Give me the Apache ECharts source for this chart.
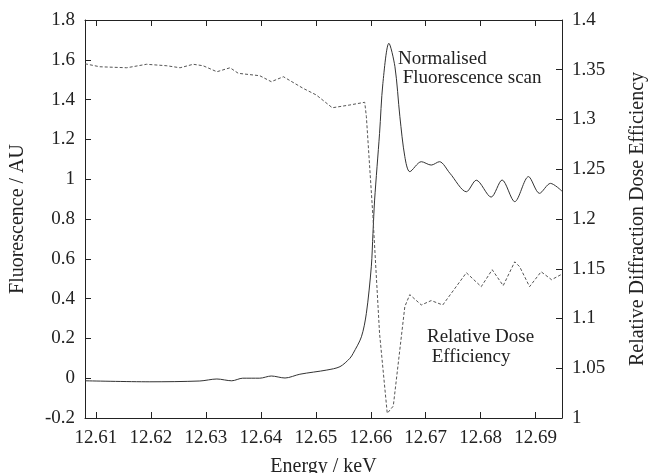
<!DOCTYPE html>
<html><head><meta charset="utf-8">
<script src="https://cdn.jsdelivr.net/npm/echarts@6/dist/echarts.min.js"></script>
<style>html,body{margin:0;padding:0;background:#fff}#c{width:652px;height:473px}</style>
</head><body><div id="c"></div>
<script>
var xTicks = [12.61, 12.62, 12.63, 12.64, 12.65, 12.66, 12.67, 12.68, 12.69];

var fluorEnergy = [12.608, 12.6198, 12.6289, 12.632, 12.6347, 12.6367, 12.6398, 12.6419, 12.6444, 12.6471, 12.652, 12.6544, 12.6562, 12.6568, 12.6583, 12.6592, 12.6601, 12.6604, 12.6607, 12.6616, 12.6622, 12.6633, 12.6644, 12.6653, 12.6662, 12.6671, 12.6692, 12.671, 12.6725, 12.6744, 12.6774, 12.6792, 12.6819, 12.6839, 12.6862, 12.6887, 12.6907, 12.6927, 12.6948];
var fluorValue = [-0.013, -0.018, -0.014, -0.004, -0.013, 0.0, 0.0, 0.011, 0.001, 0.02, 0.041, 0.058, 0.1, 0.125, 0.208, 0.326, 0.56, 0.728, 0.895, 1.23, 1.48, 1.683, 1.565, 1.314, 1.113, 1.038, 1.088, 1.071, 1.088, 1.03, 0.937, 0.995, 0.91, 0.996, 0.887, 1.013, 0.929, 0.979, 0.94];

var doseEnergy = [12.608, 12.6107, 12.6156, 12.6192, 12.6229, 12.6253, 12.6277, 12.6295, 12.632, 12.6344, 12.6359, 12.6398, 12.6419, 12.6441, 12.6477, 12.6501, 12.653, 12.6562, 12.6589, 12.6592, 12.6604, 12.6616, 12.663, 12.6641, 12.6662, 12.6671, 12.6692, 12.671, 12.6731, 12.6774, 12.6801, 12.6821, 12.6841, 12.6862, 12.6871, 12.6889, 12.691, 12.6929, 12.6948];
var doseValue = [1.356, 1.353, 1.352, 1.3555, 1.354, 1.352, 1.3555, 1.354, 1.348, 1.352, 1.3464, 1.344, 1.338, 1.343, 1.3313, 1.3246, 1.3118, 1.3146, 1.3173, 1.303, 1.2023, 1.085, 1.0047, 1.012, 1.112, 1.124, 1.1136, 1.118, 1.1136, 1.146, 1.132, 1.149, 1.133, 1.157, 1.152, 1.132, 1.147, 1.139, 1.1446];

function zip(a, b) { return a.map(function (v, i) { return [v, b[i]]; }); }

var FONT = '"Liberation Serif", "DejaVu Serif", serif';
var ink = '#222';
var chart = echarts.init(document.getElementById('c'));
chart.setOption({
  animation: false,
  backgroundColor: '#fff',
  grid: { left: 85, right: 90, top: 20, bottom: 55, containLabel: false, outerBoundsMode: 'none' },
  xAxis: [{
    type: 'value', min: 12.608, max: 12.6948,
    name: 'Energy / keV', nameLocation: 'middle', nameGap: 39,
    nameTextStyle: { fontFamily: FONT, fontSize: 20, color: ink },
    axisLine: { show: true, onZero: false, lineStyle: { color: ink, width: 1 } },
    axisTick: { show: true, inside: true, length: 6, customValues: xTicks, lineStyle: { color: ink } },
    axisLabel: { customValues: xTicks, fontFamily: FONT, fontSize: 19, color: ink, margin: 11,
      formatter: function (v) { return v.toFixed(2); } },
    splitLine: { show: false }
  }, {
    type: 'value', position: 'top', min: 12.608, max: 12.6948,
    axisLine: { show: true, onZero: false, lineStyle: { color: ink, width: 1 } },
    axisTick: { show: true, inside: true, length: 6, customValues: xTicks, lineStyle: { color: ink } },
    axisLabel: { show: false }, splitLine: { show: false }
  }],
  yAxis: [{
    type: 'value', min: -0.2, max: 1.8, interval: 0.2, position: 'left',
    name: 'Fluorescence / AU', nameLocation: 'middle', nameGap: 57,
    nameTextStyle: { fontFamily: FONT, fontSize: 20, color: ink },
    axisLine: { show: true, onZero: false, lineStyle: { color: ink, width: 1 } },
    axisTick: { show: true, inside: true, length: 6, lineStyle: { color: ink } },
    axisLabel: { fontFamily: FONT, fontSize: 19, color: ink, margin: 10,
      formatter: function (v) { return String(Math.round(v * 10) / 10); } },
    splitLine: { show: false }
  }, {
    type: 'value', min: 1, max: 1.4, interval: 0.05, position: 'right',
    name: 'Relative Diffraction Dose Efficiency', nameLocation: 'middle', nameGap: 66,
    nameRotate: 90,
    nameTextStyle: { fontFamily: FONT, fontSize: 20, color: ink },
    axisLine: { show: true, onZero: false, lineStyle: { color: ink, width: 1 } },
    axisTick: { show: true, inside: true, length: 6, lineStyle: { color: ink } },
    axisLabel: { fontFamily: FONT, fontSize: 19, color: ink, margin: 10,
      formatter: function (v) { return String(Math.round(v * 100) / 100); } },
    splitLine: { show: false }
  }],
  series: [{
    name: 'Normalised Fluorescence scan', type: 'line', xAxisIndex: 0, yAxisIndex: 0,
    data: zip(fluorEnergy, fluorValue), smooth: 0.3, showSymbol: false,
    lineStyle: { color: '#333', width: 1 }
  }, {
    name: 'Relative Dose Efficiency', type: 'line', xAxisIndex: 0, yAxisIndex: 1,
    data: zip(doseEnergy, doseValue), showSymbol: false,
    lineStyle: { color: '#555', width: 1, type: [3, 2] }
  }],
  graphic: [
    { type: 'text', left: 398, top: 50, style: { text: 'Normalised\n Fluorescence scan', font: '19px ' + FONT, fill: ink, lineHeight: 19 } },
    { type: 'text', left: 427, top: 327, style: { text: 'Relative Dose\n Efficiency', font: '19px ' + FONT, fill: ink, lineHeight: 20 } }
  ]
});
</script></body></html>
